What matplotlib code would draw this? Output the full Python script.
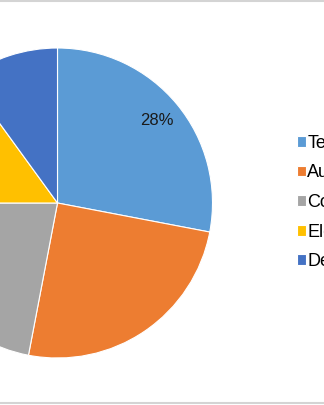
import matplotlib
matplotlib.use("Agg")
import matplotlib.pyplot as plt
from matplotlib.lines import Line2D

plt.rcParams['font.family'] = ['Liberation Sans', 'DejaVu Sans']

categories = ["Telecom", "Automotive", "Consumer", "Electronics", "Defense"]
shares = [28, 25, 22, 15, 10]
colors = ["#5B9BD5", "#ED7D31", "#A5A5A5", "#FFC000", "#4472C4"]

W, H = 324, 405
fig = plt.figure(figsize=(W / 100, H / 100), dpi=100)
ax = fig.add_axes([0, 0, 1, 1])
ax.set_axis_off()

R = 155.0
cx, cy = 57.5, 203.0  # pixel center (from top)

wedges, texts, autotexts = ax.pie(
    shares, colors=colors, startangle=90, counterclock=False,
    radius=1.0, center=(0, 0),
    wedgeprops=dict(edgecolor="white", linewidth=0.8),
    autopct=lambda p: f"{p:.0f}%" if p >= 27 else "",
    pctdistance=0.83,
    textprops=dict(fontsize=12, color="#1a1a1a"),
)
ax.set_aspect("auto")
ax.set_xlim(-cx / R, (W - cx) / R)
ax.set_ylim(-(H - cy) / R, cy / R)

fig.legend(wedges, categories, loc="center left",
           bbox_to_anchor=(296.5 / W, 1 - 202.5 / H),
           frameon=False, fontsize=13, handlelength=0.55, handleheight=0.55,
           handletextpad=0.05, labelspacing=0.7, borderpad=0, borderaxespad=0)

fig.add_artist(Line2D([0, 1], [1 - 1 / H, 1 - 1 / H], color="#d4d4d4", lw=1.5,
                      transform=fig.transFigure))
fig.add_artist(Line2D([0, 1], [2.5 / H, 2.5 / H], color="#d4d4d4", lw=1.5,
                      transform=fig.transFigure))

fig.savefig("out.png", dpi=100)
